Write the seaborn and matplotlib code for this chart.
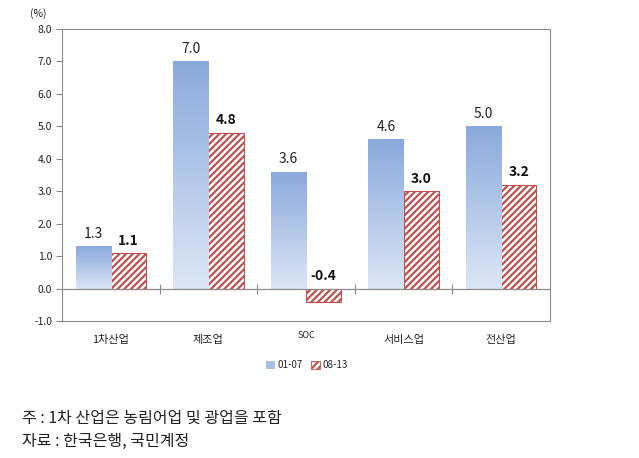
import numpy as np
import pandas as pd
import matplotlib
matplotlib.use("Agg")
import matplotlib.pyplot as plt
import seaborn as sns
from matplotlib.patches import Patch
from matplotlib.colors import LinearSegmentedColormap

categories = ["1차산업", "제조업", "SOC", "서비스업", "전산업"]
series_names = ["01-07", "08-13"]
values_0107 = [1.3, 7.0, 3.6, 4.6, 5.0]
values_0813 = [1.1, 4.8, -0.4, 3.0, 3.2]
yticks = [-1.0, 0.0, 1.0, 2.0, 3.0, 4.0, 5.0, 6.0, 7.0, 8.0]

df = pd.DataFrame({
    "cat": categories * 2,
    "series": [series_names[0]] * 5 + [series_names[1]] * 5,
    "val": values_0107 + values_0813,
})

sns.set_theme(style="white")
plt.rcParams["font.family"] = ["Noto Sans CJK KR", "DejaVu Sans"]
plt.rcParams["hatch.linewidth"] = 1.6

fig = plt.figure(figsize=(6.39, 4.58), dpi=100)
ax = fig.add_axes([62/639, 1-321/458, 488/639, 292/458])

RED = "#c0504d"
sns.barplot(data=df, x="cat", y="val", hue="series", order=categories,
            hue_order=series_names, palette=["#9cb8e4", "white"],
            width=0.72, gap=0, ax=ax, legend=False, saturation=1)

cmap = LinearSegmentedColormap.from_list("g", ["#8aa9dc", "#dde6f5"])
grad = np.linspace(0, 1, 256).reshape(-1, 1)
patches = list(ax.patches)
for i, p in enumerate(patches):
    if i < 5:
        p.set_facecolor("none")
        p.set_edgecolor("none")
        x0, y0 = p.get_x(), p.get_y()
        w, h = p.get_width(), p.get_height()
        im = ax.imshow(grad, cmap=cmap, aspect="auto",
                       extent=[x0, x0 + w, min(y0, y0 + h), max(y0, y0 + h)],
                       origin="upper", zorder=2, interpolation="bilinear")
        im.set_clip_path(p)
        p.set_zorder(2)
    else:
        p.set_facecolor("white")
        p.set_edgecolor(RED)
        p.set_hatch("/////")
        p.set_linewidth(0.8)
        p.set_zorder(2)

ax.set_xlim(-0.5, 4.5)
ax.set_ylim(-1.0, 8.0)
ax.set_yticks(yticks)
ax.set_yticklabels([f"{t:.1f}" for t in yticks], fontsize=7.5, color="#222222")
ax.set_xticks(range(5))
ax.set_xticklabels(categories, fontsize=8, color="#222222")
for lbl in ax.get_xticklabels():
    if lbl.get_text() == "SOC":
        lbl.set_fontsize(6.5)
        lbl.set_y(0.012)
ax.tick_params(axis="x", length=0, pad=10)
ax.tick_params(axis="y", length=4, width=0.8, color="#888888", direction="out", pad=3, left=True)
ax.set_xlabel("")
ax.set_ylabel("")
for s in ax.spines.values():
    s.set_color("#8c8c8c")
    s.set_linewidth(0.8)

ax.axhline(0, color="#8c8c8c", lw=0.9, zorder=3)
sec = ax.secondary_xaxis(1/9)
sec.set_xticks([0.5, 1.5, 2.5, 3.5])
sec.set_xticklabels([])
sec.tick_params(length=7, width=0.8, color="#8c8c8c", direction="inout")
sec.spines["bottom"].set_visible(False)

# data labels
for i, p in enumerate(patches):
    v = (values_0107 + values_0813)[i]
    xc = p.get_x() + p.get_width() / 2
    ytxt = max(v, 0) + 0.38
    if i < 5:
        ax.text(xc, ytxt, f"{v:.1f}", ha="center", va="center", fontsize=10, color="#222222")
    else:
        ax.text(xc, ytxt, f"{v:.1f}", ha="center", va="center", fontsize=10,
                fontweight="bold", color="#111111")

fig.text(38/639, 1-14/458, "(%)", fontsize=7.5, ha="center", va="center", color="#222222")

handles = [Patch(facecolor="#a9c0e6", edgecolor="none", label=series_names[0]),
           Patch(facecolor="white", edgecolor=RED, hatch="/////", label=series_names[1], linewidth=0.6)]
fig.legend(handles=handles, loc="center", bbox_to_anchor=(307/639, 1-365/458), ncol=2,
           frameon=False, fontsize=7, handlelength=0.9, handleheight=0.9,
           handletextpad=0.3, columnspacing=0.8)

fig.text(22/639, 1-418/458, "주 : 1차 산업은 농림어업 및 광업을 포함", fontsize=11.5,
         ha="left", va="center", color="#222222")
fig.text(22/639, 1-441/458, "자료 : 한국은행, 국민계정", fontsize=11.5,
         ha="left", va="center", color="#222222")

fig.savefig("out.png", dpi=100)
